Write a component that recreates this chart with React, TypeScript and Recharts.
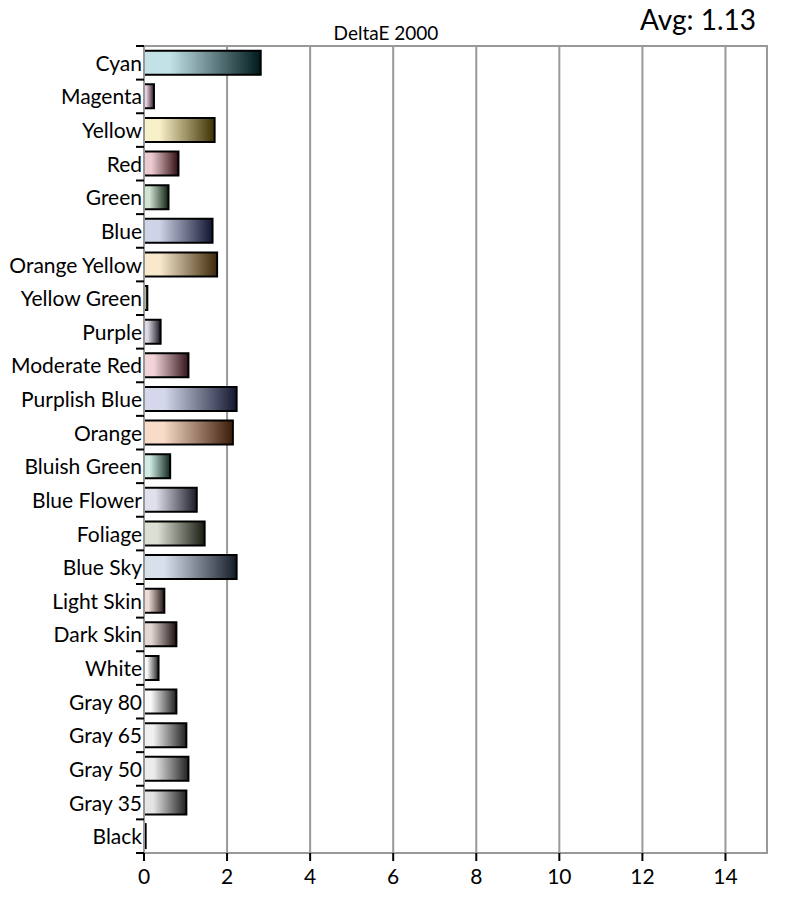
import React from 'react';
import { BarChart, Bar, XAxis, YAxis, CartesianGrid, ReferenceArea, Cell } from 'recharts';

const categories = [
  'Cyan', 'Magenta', 'Yellow', 'Red', 'Green', 'Blue', 'Orange Yellow', 'Yellow Green',
  'Purple', 'Moderate Red', 'Purplish Blue', 'Orange', 'Bluish Green', 'Blue Flower',
  'Foliage', 'Blue Sky', 'Light Skin', 'Dark Skin', 'White', 'Gray 80', 'Gray 65',
  'Gray 50', 'Gray 35', 'Black',
];
const deltaE = [
  2.81, 0.24, 1.7, 0.83, 0.59, 1.65, 1.76, 0.08,
  0.4, 1.07, 2.23, 2.14, 0.63, 1.27,
  1.46, 2.23, 0.49, 0.78, 0.35, 0.78, 1.02,
  1.07, 1.02, 0.04,
];
const lightColors = [
  '#c2e2e8', '#ead2e2', '#f8f0c8', '#eccbd0', '#d0e4d4', '#d0d4e8', '#f8e8cc', '#e8ecc8',
  '#dcd8e4', '#f0d4d8', '#d4d8ea', '#f8dcc8', '#d0ece4', '#e0e0ec',
  '#dce0d4', '#d8e0ec', '#ecdcd8', '#e4d8d4', '#f8f8f8', '#f8f8f8', '#f0f0f0',
  '#ececec', '#e4e4e4', '#404040',
];
const darkColors = [
  '#00191c', '#301828', '#3c3000', '#300c10', '#102010', '#101430', '#3c2808', '#202808',
  '#181420', '#34141c', '#141830', '#3c1c08', '#102820', '#1c1c28',
  '#181c10', '#141c28', '#201410', '#1c1010', '#202020', '#202020', '#202020',
  '#202020', '#202020', '#000000',
];
const xTicks = [0, 2, 4, 6, 8, 10, 12, 14];
const title = 'DeltaE 2000';
const avgLabel = 'Avg: 1.13';

const data = categories.map((name, i) => ({ name, value: deltaE[i] }));

const FONT = 'Lato, "Open Sans", sans-serif';
const W = 791;
const H = 898;
const TOP = 46;
const BOTTOM_AXIS = 45;
const BAND = (H - TOP - BOTTOM_AXIS) / categories.length;

// labels sit right against the axis, tick marks go between the categories
const YTick = (props: any) => {
  const { x, y, payload, index } = props;
  const ax = x + 8;
  return (
    <g>
      <line x1={ax - 8} x2={ax} y1={y - BAND / 2} y2={y - BAND / 2} stroke="#000" strokeWidth={2} />
      {index === categories.length - 1 && (
        <line x1={ax - 8} x2={ax} y1={y + BAND / 2} y2={y + BAND / 2} stroke="#000" strokeWidth={2} />
      )}
      <text x={ax - 2} y={y} dy={8} textAnchor="end" fontSize={21} fill="#000" fontFamily={FONT}>
        {payload.value}
      </text>
    </g>
  );
};

export default function App() {
  return (
    <div style={{ position: 'absolute', left: 0, top: 0, width: W, height: H, background: '#fff' }}>
      <BarChart
        width={W}
        height={H}
        data={data}
        layout="vertical"
        margin={{ top: TOP, right: 24, bottom: 0, left: 0 }}
        barCategoryGap="14%"
      >
        <defs>
          {data.map((d, i) => (
            <linearGradient key={d.name} id={`g${i}`} x1="0" y1="0" x2="1" y2="0">
              <stop offset="0%" stopColor={lightColors[i]} />
              <stop offset="22%" stopColor={lightColors[i]} />
              <stop offset="100%" stopColor={darkColors[i]} />
            </linearGradient>
          ))}
        </defs>
        <CartesianGrid horizontal={false} stroke="#999" strokeWidth={2} />
        <XAxis
          type="number"
          domain={[0, 15]}
          ticks={xTicks}
          height={BOTTOM_AXIS}
          axisLine={{ stroke: '#999', strokeWidth: 2 }}
          tickLine={{ stroke: '#000', strokeWidth: 2 }}
          tickSize={8}
          tickMargin={8}
          tick={{ fontSize: 21, fill: '#000', fontFamily: FONT }}
          interval={0}
        />
        <YAxis
          type="category"
          dataKey="name"
          width={144}
          axisLine={{ stroke: '#999', strokeWidth: 2 }}
          tickLine={false}
          tick={<YTick />}
          interval={0}
        />
        <ReferenceArea x1={0} x2={15} fill="none" stroke="#999" strokeWidth={2} ifOverflow="visible" />
        <Bar dataKey="value" stroke="#000" strokeWidth={2} isAnimationActive={false}>
          {data.map((d, i) => (
            <Cell key={d.name} fill={`url(#g${i})`} />
          ))}
        </Bar>
        <text x={386} y={40} textAnchor="middle" fontSize={19} fill="#000" fontFamily={FONT}>
          {title}
        </text>
        <text x={756} y={30} textAnchor="end" fontSize={28} fill="#000" fontFamily={FONT}>
          {avgLabel}
        </text>
      </BarChart>
    </div>
  );
}
